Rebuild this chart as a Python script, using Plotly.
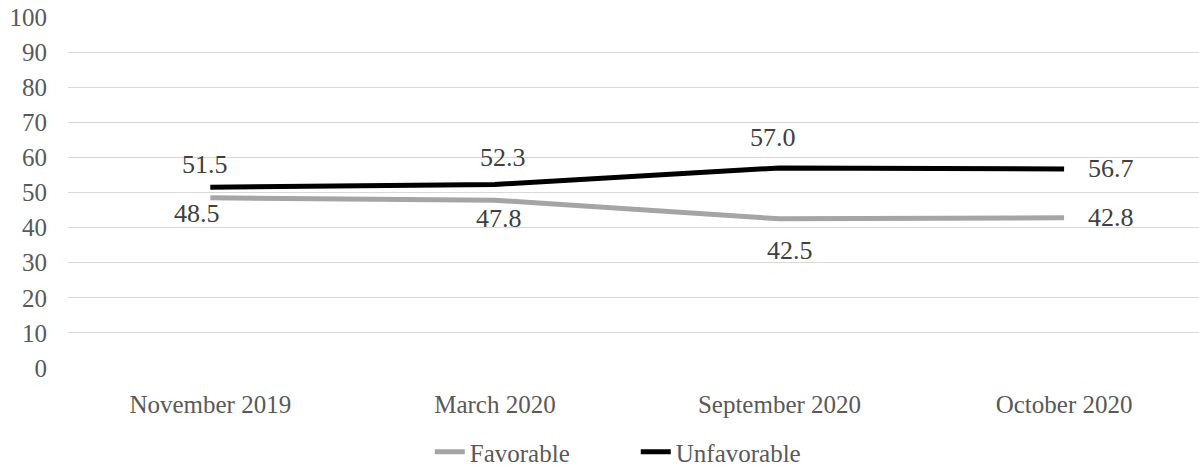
import plotly.graph_objects as go

categories = ["November 2019", "March 2020", "September 2020", "October 2020"]
favorable = [48.5, 47.8, 42.5, 42.8]
unfavorable = [51.5, 52.3, 57.0, 56.7]
y_ticks = [0, 10, 20, 30, 40, 50, 60, 70, 80, 90, 100]

# label placement styling (pixel shifts from each point), not data
unfav_label_shift = [(-5, 23), (8, 27), (-7, 30), (22, 0)]
fav_label_shift = [(-13, -16), (4, -18), (10, -32), (22, 0)]

FONT = "Times New Roman, Liberation Serif, serif"
fig = go.Figure()
fig.add_trace(go.Scatter(x=categories, y=favorable, name="Favorable", mode="lines",
                         line=dict(color="#A5A5A5", width=5)))
fig.add_trace(go.Scatter(x=categories, y=unfavorable, name="Unfavorable", mode="lines",
                         line=dict(color="#000000", width=5)))

annotations = []
n = len(categories)
for series, shifts in ((unfavorable, unfav_label_shift), (favorable, fav_label_shift)):
    for i, (c, v) in enumerate(zip(categories, series)):
        dx, dy = shifts[i]
        last = (i == n - 1)
        annotations.append(dict(x=c, y=v, text=f"{v:.1f}", showarrow=False,
                                xanchor="left" if last else "center", yanchor="middle",
                                xshift=dx, yshift=dy,
                                font=dict(family=FONT, size=26, color="#404040")))

fig.update_layout(
    width=1199, height=475,
    margin=dict(l=68, r=0, t=17, b=102),
    paper_bgcolor="white", plot_bgcolor="white",
    font=dict(family=FONT, size=25, color="#595959"),
    annotations=annotations,
    showlegend=True,
    legend=dict(orientation="h", x=0.502, xanchor="center", y=-0.24, yanchor="middle",
                font=dict(family=FONT, size=25, color="#595959"),
                traceorder="normal", itemwidth=30, entrywidth=161,
                bgcolor="rgba(0,0,0,0)"),
    xaxis=dict(type="category", range=[-0.5, 3.474], showgrid=False, zeroline=False,
               showline=False, ticks="", tickfont=dict(family=FONT, size=25, color="#595959"),
               ticklabelstandoff=19),
    yaxis=dict(range=[0, 100], tickvals=y_ticks, showgrid=True, gridcolor="#D9D9D9",
               gridwidth=1, zeroline=False, showline=False, ticks="",
               tickfont=dict(family=FONT, size=25, color="#595959"),
               ticklabelstandoff=20),
)

fig.write_html("out.html")
